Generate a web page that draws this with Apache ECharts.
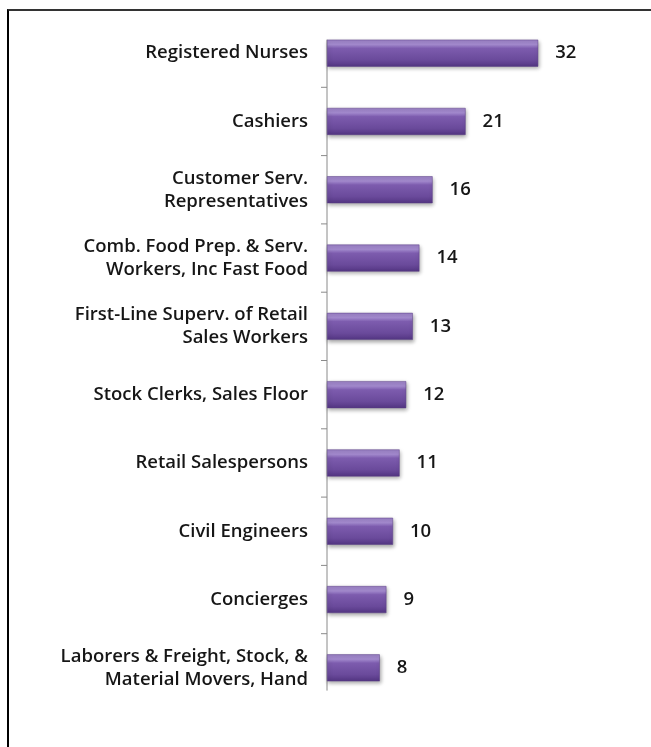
<!DOCTYPE html>
<html>
<head>
<meta charset="utf-8">
<title>Top occupations</title>
<script src="https://cdn.jsdelivr.net/npm/echarts@6/dist/echarts.min.js"></script>
<style>
  html, body { margin: 0; padding: 0; background: #fff; overflow: hidden; }
  #frame {
    position: absolute; left: 7px; top: 9px; width: 700px; height: 800px;
    border-top: 2px solid #333; border-left: 2px solid #000;
  }
  #chart { position: absolute; left: 0; top: 0; width: 651px; height: 747px; }
</style>
</head>
<body>
<div id="frame"></div>
<div id="chart"></div>
<script>
// Occupations, listed top to bottom
const occupations = [
  'Registered Nurses',
  'Cashiers',
  'Customer Serv.\nRepresentatives',
  'Comb. Food Prep. & Serv.\nWorkers, Inc Fast Food',
  'First-Line Superv. of Retail\nSales Workers',
  'Stock Clerks, Sales Floor',
  'Retail Salespersons',
  'Civil Engineers',
  'Concierges',
  'Laborers & Freight, Stock, &\nMaterial Movers, Hand'
];
const counts = [32, 21, 16, 14, 13, 12, 11, 10, 9, 8];

const BAR_WIDTH = 27;
const AXIS_COLOR = '#8a8a8a';

const chart = echarts.init(document.getElementById('chart'), null, { renderer: 'canvas' });

const barFill = new echarts.graphic.LinearGradient(0, 0, 0, 1, [
  { offset: 0, color: '#9a80c4' },
  { offset: 0.18, color: '#a48bcf' },
  { offset: 0.32, color: '#7d5cae' },
  { offset: 0.75, color: '#6a4a9b' },
  { offset: 1, color: '#533582' }
]);

chart.setOption({
  animation: false,
  backgroundColor: 'transparent',
  grid: { left: 327, right: 93, top: 19, bottom: 45, containLabel: false },
  xAxis: { type: 'value', min: 0, max: 35, show: false },
  yAxis: {
    type: 'category',
    data: occupations,
    inverse: true,
    axisLine: { show: false },
    axisTick: { show: false },
    axisLabel: {
      margin: 19,
      color: '#161616',
      fontFamily: 'Open Sans',
      fontWeight: 600,
      fontSize: 18.5,
      lineHeight: 23,
      align: 'right'
    },
    splitLine: { show: false }
  },
  series: [{
    type: 'bar',
    data: counts,
    barWidth: BAR_WIDTH,
    itemStyle: {
      color: barFill,
      borderColor: '#5a3e86',
      borderWidth: 0.5,
      shadowColor: 'rgba(0,0,0,0.35)',
      shadowBlur: 4,
      shadowOffsetY: 2,
      shadowOffsetX: 1
    },
    label: {
      show: true,
      position: 'right',
      distance: 17,
      color: '#161616',
      fontFamily: 'Open Sans',
      fontWeight: 600,
      fontSize: 18.5
    }
  }]
});

// Category axis line and separator ticks, placed from the axis scale
const x0 = chart.convertToPixel({ xAxisIndex: 0 }, 0);
const yFirst = chart.convertToPixel({ yAxisIndex: 0 }, 0);
const ySecond = chart.convertToPixel({ yAxisIndex: 0 }, 1);
const yLast = chart.convertToPixel({ yAxisIndex: 0 }, occupations.length - 1);
const band = ySecond - yFirst;

const axisGraphics = [{
  type: 'line',
  shape: { x1: x0, y1: yFirst - BAR_WIDTH / 2, x2: x0, y2: yLast + band / 3 },
  style: { stroke: AXIS_COLOR, lineWidth: 1 },
  z: 1
}];
for (let i = 0; i < occupations.length - 1; i++) {
  const yc = chart.convertToPixel({ yAxisIndex: 0 }, i) + band / 2;
  axisGraphics.push({
    type: 'line',
    shape: { x1: x0 - 6, y1: yc, x2: x0, y2: yc },
    style: { stroke: AXIS_COLOR, lineWidth: 1 },
    z: 1
  });
}
chart.setOption({ graphic: axisGraphics });
</script>
</body>
</html>
